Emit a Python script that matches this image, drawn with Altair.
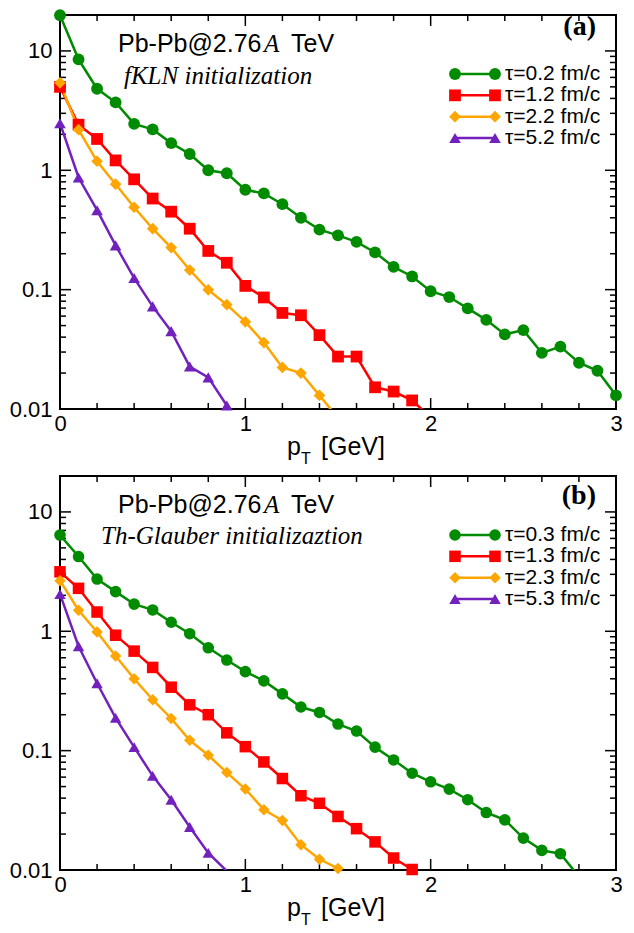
import altair as alt
import pandas as pd

# ---------------- data ----------------
PT = [0.0, 0.1, 0.2, 0.3, 0.4, 0.5, 0.6, 0.7, 0.8, 0.9, 1.0, 1.1, 1.2, 1.3, 1.4, 1.5,
      1.6, 1.7, 1.8, 1.9, 2.0, 2.1, 2.2, 2.3, 2.4, 2.5, 2.6, 2.7, 2.8, 2.9, 3.0]

labels_a = ["τ=0.2 fm/c", "τ=1.2 fm/c", "τ=2.2 fm/c", "τ=5.2 fm/c"]
a_green = [19.9, 8.5, 4.82, 3.71, 2.45, 2.20, 1.69, 1.37, 1.00, 0.945, 0.687, 0.64, 0.52, 0.40,
           0.318, 0.285, 0.251, 0.205, 0.155, 0.129, 0.097, 0.0867, 0.0697, 0.0558, 0.0422,
           0.0458, 0.0295, 0.0333, 0.0244, 0.0209, 0.013]
a_red = [5.0, 2.41, 1.83, 1.21, 0.84, 0.58, 0.45, 0.324, 0.211, 0.168, 0.1075, 0.086, 0.0638,
         0.061, 0.0416, 0.0275, 0.0275, 0.0152, 0.0140, 0.0118, 0.0085]
a_orange = [5.41, 2.19, 1.19, 0.765, 0.49, 0.324, 0.225, 0.146, 0.0996, 0.0748, 0.0537, 0.036,
            0.0223, 0.020, 0.013, 0.0084]
a_purple = [2.48, 0.87, 0.463, 0.235, 0.125, 0.0724, 0.0449, 0.0227, 0.0184, 0.0107]

labels_b = ["τ=0.3 fm/c", "τ=1.3 fm/c", "τ=2.3 fm/c", "τ=5.3 fm/c"]
b_green = [6.4, 4.23, 2.74, 2.15, 1.69, 1.51, 1.19, 0.955, 0.727, 0.574, 0.459, 0.384, 0.299,
           0.232, 0.209, 0.167, 0.146, 0.107, 0.0836, 0.0647, 0.0548, 0.0476, 0.0388, 0.0303,
           0.0263, 0.0185, 0.0146, 0.0137, 0.0088]
b_red = [3.15, 2.29, 1.45, 0.927, 0.682, 0.498, 0.340, 0.242, 0.200, 0.141, 0.108, 0.0804,
         0.0584, 0.0419, 0.0362, 0.0281, 0.0222, 0.0172, 0.0126, 0.0101]
b_orange = [2.65, 1.50, 0.987, 0.62, 0.40, 0.267, 0.186, 0.122, 0.0915, 0.0655, 0.0477, 0.032,
            0.026, 0.0163, 0.0123, 0.0103]
b_purple = [2.05, 0.75, 0.367, 0.188, 0.107, 0.0615, 0.0388, 0.0229, 0.0139, 0.0098]

COLORS = ["#008b00", "#ff0000", "#ffa500", "#7221bc"]
SHAPES = ["circle", "square", "diamond", "triangle-up"]
SIZES = [140, 130, 150, 140]

Y_MAJOR = [0.01, 0.1, 1, 10]
Y_MINOR = [0.02, 0.03, 0.04, 0.05, 0.06, 0.07, 0.08, 0.09,
           0.2, 0.3, 0.4, 0.5, 0.6, 0.7, 0.8, 0.9,
           2, 3, 4, 5, 6, 7, 8, 9]
X_MAJOR = [0, 1, 2, 3]
X_MINOR = [0.2, 0.4, 0.6, 0.8, 1.2, 1.4, 1.6, 1.8, 2.2, 2.4, 2.6, 2.8]

W, H = 556, 394
SANS = "Liberation Sans"
SERIF = "Liberation Serif"

XS = alt.Scale(domain=[0, 3], nice=False, zero=False)
YS = alt.Scale(type="log", domain=[0.01, 20], nice=False)
XAXIS = alt.Axis(values=X_MAJOR, format="d", title=None, ticks=False, tickSize=0,
                 domain=False, grid=False, labelFontSize=22, labelFont=SANS,
                 labelColor="black", labelPadding=4, labelFlush=False, labelOverlap=False)
YAXIS = alt.Axis(values=Y_MAJOR, format="~g", title=None, ticks=False, tickSize=0,
                 domain=False, grid=False, labelFontSize=22, labelFont=SANS,
                 labelColor="black", labelPadding=8, labelFlush=False, labelOverlap=False)


def note(text, x, y, size, font, style="normal", weight="normal", align="left"):
    return alt.Chart(pd.DataFrame({"t": [text]})).mark_text(
        align=align, baseline="alphabetic", fontSize=size, font=font,
        fontStyle=style, fontWeight=weight, color="black"
    ).encode(x=alt.value(x), y=alt.value(y), text="t:N")


def yt(vals, x0, x1):
    return alt.Chart(pd.DataFrame({"val": vals})).mark_rule(color="black", strokeWidth=1.5).encode(
        y=alt.Y("val:Q", scale=YS, axis=YAXIS), x=alt.value(x0), x2=alt.value(x1))


def xt(vals, y0, y1):
    return alt.Chart(pd.DataFrame({"pt": vals})).mark_rule(color="black", strokeWidth=1.5).encode(
        x=alt.X("pt:Q", scale=XS, axis=XAXIS), y=alt.value(y0), y2=alt.value(y1))


def panel(labels, series, subtitle, sub_x, sub_y, tag, tag_y):
    rows = []
    for lab, vals in zip(labels, series):
        for x, v in zip(PT, vals):
            rows.append({"pt": x, "val": v, "series": lab})
    df = pd.DataFrame(rows)

    color = alt.Color("series:N", scale=alt.Scale(domain=labels, range=COLORS), legend=None)
    shape = alt.Shape("series:N", scale=alt.Scale(domain=labels, range=SHAPES), legend=None)
    size = alt.Size("series:N", scale=alt.Scale(domain=labels, range=SIZES), legend=None)

    base = alt.Chart(df).encode(
        x=alt.X("pt:Q", scale=XS, axis=XAXIS),
        y=alt.Y("val:Q", scale=YS, axis=YAXIS),
        color=color,
    )
    lines = base.mark_line(clip=True, strokeWidth=2.5).encode(detail="series:N")
    pts = base.mark_point(filled=True, opacity=1).encode(shape=shape, size=size).transform_filter(
        "datum.val >= 0.0099")

    ticks = [
        yt(Y_MAJOR, 0, 11), yt(Y_MINOR, 0, 6), yt(Y_MAJOR, W - 11, W), yt(Y_MINOR, W - 6, W),
        xt(X_MAJOR, H, H - 11), xt(X_MINOR, H, H - 6), xt(X_MAJOR, 0, 11), xt(X_MINOR, 0, 6),
    ]

    notes = [
        note("Pb-Pb@2.76", 58, 37, 25, SANS),
        note("A", 204, 37, 25, SERIF, style="italic"),
        note("TeV", 231, 37, 25, SANS),
        note(subtitle, sub_x, sub_y, 25, SERIF, style="italic"),
        note(tag, W - 20, tag_y, 28, SERIF, weight="bold", align="right"),
        note("p", W / 2 - 51, H + 46, 25, SANS),
        note("T", W / 2 - 37, H + 55, 16, SANS),
        note("[GeV]", W / 2 - 17, H + 46, 25, SANS),
    ]

    main = alt.layer(*ticks, lines, pts, *notes)

    leg_df = pd.DataFrame({"series": labels})
    ly = alt.Y("series:N", sort=labels,
               scale=alt.Scale(type="point", domain=labels, range=[59, 123], padding=0),
               axis=None)
    lx1, lx2, lxt = W - 161, W - 121, W - 111
    leg_rule = alt.Chart(leg_df).mark_rule(strokeWidth=2.5).encode(
        y=ly, x=alt.value(lx1), x2=alt.value(lx2), color=color)
    leg_p1 = alt.Chart(leg_df).mark_point(filled=True, opacity=1).encode(
        y=ly, x=alt.value(lx1), color=color, shape=shape, size=size)
    leg_p2 = alt.Chart(leg_df).mark_point(filled=True, opacity=1).encode(
        y=ly, x=alt.value(lx2), color=color, shape=shape, size=size)
    leg_txt = alt.Chart(leg_df).mark_text(align="left", baseline="middle", fontSize=21,
                                          font=SANS, color="black").encode(
        y=ly, x=alt.value(lxt), text="series:N")
    legend = alt.layer(leg_rule, leg_p1, leg_p2, leg_txt)

    return alt.layer(main, legend).resolve_scale(y="independent").properties(width=W, height=H)


pa = panel(labels_a, [a_green, a_red, a_orange, a_purple], "fKLN initialization", 64, 69, "(a)", 20)
pb = panel(labels_b, [b_green, b_red, b_orange, b_purple], "Th-Glauber initializaztion", 41, 68, "(b)", 28)

chart = alt.vconcat(pa, pb, spacing=6).properties(
    padding={"left": 0, "top": 0, "right": 0, "bottom": 0}, background="white"
).configure_view(stroke="black", strokeWidth=2)

chart.save("out.html", embed_options={"renderer": "svg", "actions": False})
